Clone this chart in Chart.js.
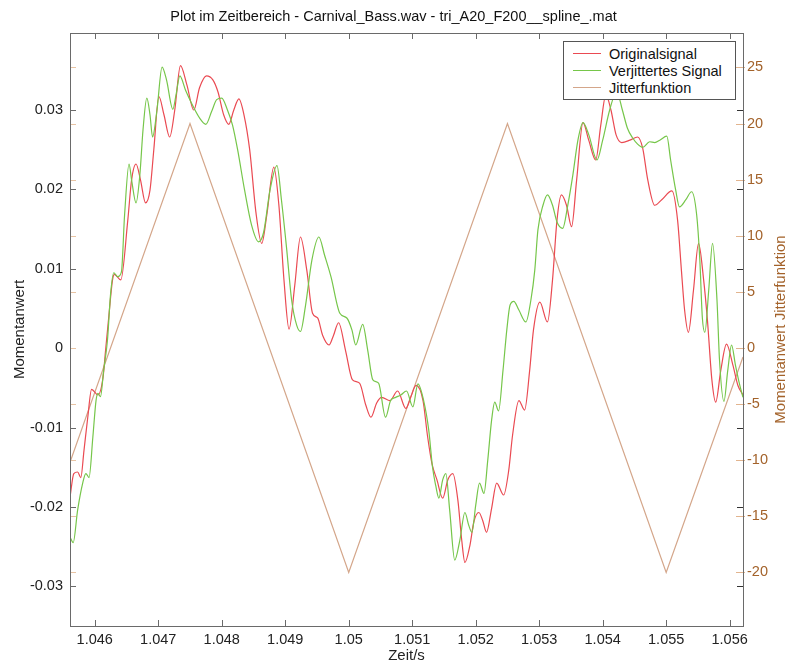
<!DOCTYPE html>
<html>
<head>
<meta charset="utf-8">
<script src="https://cdn.jsdelivr.net/npm/chart.js@4.4.0/dist/chart.umd.min.js"></script>
<style>
  body { margin: 0; background: #fff; }
  #wrap { position: relative; width: 787px; height: 664px; }
  #legend {
    position: absolute; left: 563px; top: 41px; width: 171px; height: 54px;
    border: 1px solid #555; background: #fff; padding-top: 3px;
    font: 14.5px "Liberation Sans", Arial, sans-serif; color: #111;
  }
  #legend .row { height: 17px; display: flex; align-items: center; white-space: nowrap; }
  #legend .swatch { width: 28px; height: 0; border-top: 1.5px solid; margin: 0 8px 0 9px; }
</style>
</head>
<body>
<div id="wrap">
  <canvas id="chart" width="787" height="664"></canvas>
  <div id="legend"></div>
</div>
<script>
// Originalsignal, time (s) and value
const origT = [1.04561, 1.04567, 1.04573, 1.04578, 1.04583, 1.04589, 1.04595, 1.04605, 1.04613, 1.04617,
  1.04622, 1.04628, 1.04631, 1.04641, 1.04652, 1.04658, 1.04665, 1.04672, 1.04680, 1.04687,
  1.04693, 1.04701, 1.04709, 1.04718, 1.04726, 1.04735, 1.04745, 1.04756, 1.04765, 1.04776,
  1.04786, 1.04794, 1.04803, 1.04811, 1.04819, 1.04827, 1.04835, 1.04844, 1.04854, 1.04863,
  1.04871, 1.04882, 1.04890, 1.04898, 1.04906, 1.04915, 1.04924, 1.04934, 1.04943, 1.04951,
  1.04959, 1.04969, 1.04976, 1.04984, 1.04995, 1.05006, 1.05017, 1.05027, 1.05035, 1.05044,
  1.05052, 1.05065, 1.05077, 1.05090, 1.05098, 1.05106, 1.05117, 1.05124, 1.05131, 1.05139,
  1.05148, 1.05156, 1.05164, 1.05172, 1.05178, 1.05183, 1.05191, 1.05197, 1.05205, 1.05211,
  1.05217, 1.05225, 1.05233, 1.05244, 1.05252, 1.05258, 1.05268, 1.05277, 1.05285, 1.05291,
  1.05301, 1.05313, 1.05321, 1.05328, 1.05335, 1.05343, 1.05351, 1.05359, 1.05369, 1.05378,
  1.05389, 1.05397, 1.05405, 1.05413, 1.05421, 1.05430, 1.05443, 1.05455, 1.05463, 1.05471,
  1.05482, 1.05493, 1.05509, 1.05518, 1.05524, 1.05529, 1.05535, 1.05543, 1.05551, 1.05559,
  1.05565, 1.05572, 1.05578, 1.05586, 1.05595, 1.05605, 1.05613, 1.05621];
const origV = [-0.0188, -0.0158, -0.0156, -0.0163, -0.0129, -0.0087, -0.0052, -0.0059, -0.0037, -0.0003,
  0.0039, 0.0086, 0.0093, 0.0086, 0.0161, 0.0212, 0.0232, 0.0212, 0.0183, 0.0199,
  0.0250, 0.0317, 0.0294, 0.0266, 0.0300, 0.0356, 0.0332, 0.0300, 0.0328, 0.0343,
  0.0338, 0.0323, 0.0294, 0.0282, 0.0300, 0.0314, 0.0294, 0.0250, 0.0170, 0.0132,
  0.0168, 0.0228, 0.0180, 0.0086, 0.0024, 0.0079, 0.0140, 0.0098, 0.0044, 0.0038,
  0.0016, 0.0004, 0.0016, 0.0032, -0.0003, -0.0040, -0.0044, -0.0072, -0.0087, -0.0069,
  -0.0062, -0.0066, -0.0054, -0.0076, -0.0061, -0.0047, -0.0066, -0.0110, -0.0145, -0.0166,
  -0.0189, -0.0166, -0.0158, -0.0192, -0.0242, -0.0270, -0.0248, -0.0219, -0.0207, -0.0217,
  -0.0232, -0.0202, -0.0170, -0.0185, -0.0154, -0.0110, -0.0066, -0.0078, -0.0028, 0.0023,
  0.0058, 0.0033, 0.0086, 0.0161, 0.0193, 0.0180, 0.0153, 0.0212, 0.0284, 0.0262,
  0.0237, 0.0281, 0.0319, 0.0300, 0.0269, 0.0259, 0.0262, 0.0266, 0.0252, 0.0212,
  0.0180, 0.0187, 0.0198, 0.0161, 0.0098, 0.0048, 0.0020, 0.0073, 0.0132, 0.0086,
  0.0035, -0.0040, -0.0068, -0.0028, 0.0005, -0.0021, -0.0047, -0.0059];

// Verjittertes Signal, time (s) and value
const jitteredT = [1.04561, 1.04566, 1.04573, 1.04581, 1.04586, 1.04591, 1.04597, 1.04602, 1.04605, 1.04609,
  1.04614, 1.04620, 1.04625, 1.04630, 1.04636, 1.04642, 1.04647, 1.04654, 1.04658, 1.04665,
  1.04671, 1.04676, 1.04682, 1.04687, 1.04691, 1.04698, 1.04706, 1.04713, 1.04723, 1.04728,
  1.04734, 1.04743, 1.04754, 1.04765, 1.04775, 1.04784, 1.04792, 1.04800, 1.04809, 1.04817,
  1.04825, 1.04836, 1.04847, 1.04858, 1.04866, 1.04876, 1.04887, 1.04894, 1.04902, 1.04910,
  1.04918, 1.04924, 1.04932, 1.04942, 1.04953, 1.04962, 1.04972, 1.04986, 1.04997, 1.05005,
  1.05011, 1.05022, 1.05030, 1.05038, 1.05047, 1.05058, 1.05066, 1.05074, 1.05082, 1.05091,
  1.05101, 1.05109, 1.05118, 1.05126, 1.05132, 1.05137, 1.05142, 1.05148, 1.05153, 1.05159,
  1.05167, 1.05175, 1.05183, 1.05189, 1.05194, 1.05200, 1.05206, 1.05213, 1.05219, 1.05225,
  1.05230, 1.05236, 1.05243, 1.05249, 1.05254, 1.05260, 1.05268, 1.05279, 1.05287, 1.05293,
  1.05298, 1.05306, 1.05313, 1.05321, 1.05328, 1.05337, 1.05345, 1.05353, 1.05361, 1.05369,
  1.05378, 1.05391, 1.05400, 1.05411, 1.05422, 1.05431, 1.05439, 1.05447, 1.05455, 1.05463,
  1.05474, 1.05482, 1.05490, 1.05501, 1.05507, 1.05515, 1.05521, 1.05531, 1.05540, 1.05548,
  1.05553, 1.05557, 1.05561, 1.05567, 1.05573, 1.05580, 1.05584, 1.05591, 1.05597, 1.05603,
  1.05609, 1.05616, 1.05621];
const jitteredV = [-0.0238, -0.0245, -0.0204, -0.0170, -0.0158, -0.0163, -0.0112, -0.0066, -0.0057, -0.0061,
  -0.0028, 0.0010, 0.0069, 0.0095, 0.0090, 0.0096, 0.0168, 0.0232, 0.0212, 0.0183,
  0.0218, 0.0275, 0.0315, 0.0294, 0.0266, 0.0300, 0.0354, 0.0338, 0.0301, 0.0319,
  0.0343, 0.0325, 0.0306, 0.0290, 0.0282, 0.0298, 0.0313, 0.0315, 0.0300, 0.0281,
  0.0250, 0.0199, 0.0155, 0.0134, 0.0146, 0.0199, 0.0230, 0.0187, 0.0127, 0.0061,
  0.0029, 0.0021, 0.0054, 0.0111, 0.0140, 0.0117, 0.0090, 0.0044, 0.0038, 0.0023,
  0.0004, 0.0030, -0.0003, -0.0040, -0.0044, -0.0087, -0.0066, -0.0062, -0.0059, -0.0054,
  -0.0074, -0.0045, -0.0066, -0.0103, -0.0150, -0.0173, -0.0189, -0.0166, -0.0158, -0.0204,
  -0.0267, -0.0242, -0.0207, -0.0223, -0.0232, -0.0198, -0.0170, -0.0183, -0.0141, -0.0091,
  -0.0068, -0.0079, -0.0028, 0.0023, 0.0054, 0.0059, 0.0048, 0.0033, 0.0061, 0.0098,
  0.0149, 0.0180, 0.0193, 0.0180, 0.0159, 0.0151, 0.0180, 0.0218, 0.0262, 0.0284,
  0.0269, 0.0237, 0.0262, 0.0300, 0.0323, 0.0300, 0.0277, 0.0265, 0.0257, 0.0253,
  0.0260, 0.0259, 0.0262, 0.0267, 0.0237, 0.0199, 0.0178, 0.0187, 0.0197, 0.0168,
  0.0111, 0.0038, 0.0020, 0.0073, 0.0132, 0.0061, -0.0015, -0.0067, -0.0028, 0.0004,
  -0.0021, -0.0047, -0.0062];

// Jitterfunktion (right axis): corners of the triangle
const triT = [1.04561, 1.0475, 1.0500, 1.0525, 1.0550, 1.05621];
const triV = [-10.2, 20, -20, 20, -20, -0.8];

const xTicks = [1.046, 1.047, 1.048, 1.049, 1.050, 1.051, 1.052, 1.053, 1.054, 1.055, 1.056];
const xTickLabels = ['1.046', '1.047', '1.048', '1.049', '1.05', '1.051', '1.052', '1.053', '1.054', '1.055', '1.056'];
const yTicks = [-0.03, -0.02, -0.01, 0, 0.01, 0.02, 0.03];
const yTickLabels = ['-0.03', '-0.02', '-0.01', '0', '0.01', '0.02', '0.03'];
const y2Ticks = [-20, -15, -10, -5, 0, 5, 10, 15, 20, 25];
const y2TickLabels = ['-20', '-15', '-10', '-5', '0', '5', '10', '15', '20', '25'];

const seriesNames = ['Originalsignal', 'Verjittertes Signal', 'Jitterfunktion'];
const seriesColors = ['#ea4a52', '#76c64a', '#d4a68a'];
const brown = '#a3622a';
const frameColor = '#6a6a6a';

const toXY = (ts, vs) => ts.map((t, i) => ({ x: t, y: vs[i] }));

Chart.defaults.font.family = '"Liberation Sans", Arial, sans-serif';
Chart.defaults.font.size = 14.5;
Chart.defaults.color = '#222';

// MATLAB-like box with inward ticks on all four sides
const boxTicks = {
    id: 'boxTicks',
    afterDatasetsDraw(chart) {
        const { ctx, chartArea: a, scales } = chart;
        const seg = (x1, y1, x2, y2, c) => {
            ctx.strokeStyle = c;
            ctx.beginPath();
            ctx.moveTo(x1, y1);
            ctx.lineTo(x2, y2);
            ctx.stroke();
        };
        ctx.save();
        ctx.lineWidth = 1;

        scales.x.ticks.forEach(t => {
            const x = Math.round(scales.x.getPixelForValue(t.value)) + 0.5;
            seg(x, a.bottom, x, a.bottom - 6, frameColor);
            seg(x, a.top, x, a.top + 6, frameColor);
        });
        scales.y.ticks.forEach(t => {
            const y = Math.round(scales.y.getPixelForValue(t.value)) + 0.5;
            seg(a.left, y, a.left + 6, y, frameColor);
            seg(a.right - 6, y, a.right, y, '#333');
        });
        scales.y1.ticks.forEach(t => {
            const y = Math.round(scales.y1.getPixelForValue(t.value)) + 0.5;
            seg(a.left, y, a.left + 6, y, '#e8c4a4');
            seg(a.right - 7, y, a.right + 2, y, '#e2b48e');
        });

        ctx.strokeStyle = frameColor;
        ctx.strokeRect(Math.round(a.left) + 0.5, Math.round(a.top) + 0.5,
            Math.round(a.right - a.left), Math.round(a.bottom - a.top));

        // right axis title, reading bottom to top
        ctx.translate(781, (a.top + a.bottom) / 2);
        ctx.rotate(-Math.PI / 2);
        ctx.fillStyle = brown;
        ctx.font = '15px "Liberation Sans", Arial, sans-serif';
        ctx.textAlign = 'center';
        ctx.textBaseline = 'middle';
        ctx.fillText('Momentanwert Jitterfunktion', 0, 0);
        ctx.restore();
    }
};

const chart = new Chart(document.getElementById('chart'), {
    type: 'line',
    data: {
        datasets: [{
            label: seriesNames[0],
            data: toXY(origT, origV),
            borderColor: seriesColors[0],
            borderWidth: 1.2,
            cubicInterpolationMode: 'monotone',
            yAxisID: 'y',
            order: 1
        }, {
            label: seriesNames[1],
            data: toXY(jitteredT, jitteredV),
            borderColor: seriesColors[1],
            borderWidth: 1.2,
            cubicInterpolationMode: 'monotone',
            yAxisID: 'y',
            order: 0
        }, {
            label: seriesNames[2],
            data: toXY(triT, triV),
            borderColor: seriesColors[2],
            borderWidth: 1.2,
            tension: 0,
            yAxisID: 'y1',
            order: 2
        }]
    },
    options: {
        responsive: false,
        animation: false,
        layout: { padding: 0 },
        elements: { point: { radius: 0 } },
        plugins: {
            legend: { display: false },
            tooltip: { enabled: false },
            title: {
                display: true,
                text: 'Plot im Zeitbereich - Carnival_Bass.wav - tri_A20_F200__spline_.mat',
                color: '#111',
                font: { size: 14.5, weight: 'normal' },
                padding: { top: 8.5, bottom: 7.1 }
            }
        },
        scales: {
            x: {
                type: 'linear',
                min: 1.04561,
                max: 1.05621,
                grid: { display: false, drawTicks: false },
                border: { display: false },
                afterBuildTicks: scale => { scale.ticks = xTicks.map(v => ({ value: v })); },
                afterFit: scale => { scale.height = 38; },
                ticks: {
                    autoSkip: false,
                    maxRotation: 0,
                    padding: 5,
                    callback: (v, i) => xTickLabels[i]
                },
                title: { display: true, text: 'Zeit/s', font: { size: 15 }, padding: { top: 0, bottom: -1 } }
            },
            y: {
                position: 'left',
                min: -0.035,
                max: 0.0397,
                grid: { display: false, drawTicks: false },
                border: { display: false },
                afterBuildTicks: scale => { scale.ticks = yTicks.map(v => ({ value: v })); },
                afterFit: scale => { scale.width = 70; },
                ticks: {
                    autoSkip: false,
                    padding: 7,
                    callback: (v, i) => yTickLabels[i]
                },
                title: { display: true, text: 'Momentanwert', font: { size: 15 }, padding: { top: 11, bottom: 0 } }
            },
            y1: {
                position: 'right',
                min: -24.78,
                max: 28.07,
                grid: { display: false, drawTicks: false },
                border: { display: false },
                afterBuildTicks: scale => { scale.ticks = y2Ticks.map(v => ({ value: v })); },
                afterFit: scale => { scale.width = 44; },
                ticks: {
                    autoSkip: false,
                    padding: 4,
                    color: brown,
                    callback: (v, i) => y2TickLabels[i]
                }
            }
        }
    },
    plugins: [boxTicks]
});

// legend box inside the plot, top right
const legendEl = document.getElementById('legend');
chart.data.datasets.forEach(ds => {
    const row = document.createElement('div');
    row.className = 'row';
    const sw = document.createElement('span');
    sw.className = 'swatch';
    sw.style.borderTopColor = ds.borderColor;
    const txt = document.createElement('span');
    txt.textContent = ds.label;
    row.appendChild(sw);
    row.appendChild(txt);
    legendEl.appendChild(row);
});
</script>
</body>
</html>
